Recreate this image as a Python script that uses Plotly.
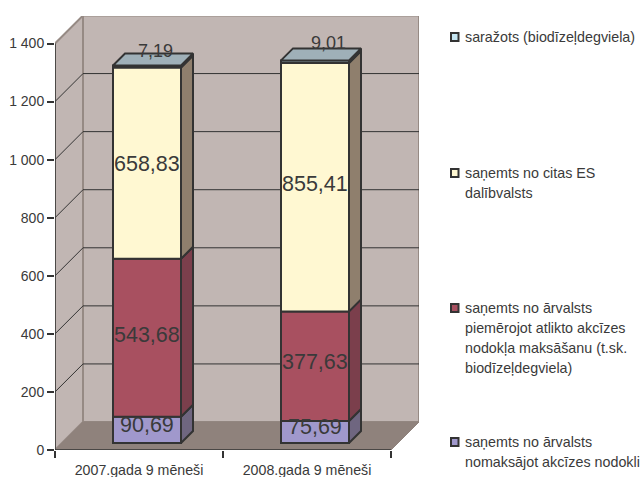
import plotly.graph_objects as go

categories = ["2007.gada 9 mēneši", "2008.gada 9 mēneši"]

# series, bottom to top
purple_vals = [90.69, 75.69]
red_vals = [543.68, 377.63]
cream_vals = [658.83, 855.41]
blue_vals = [7.19, 9.01]

y_ticks = [0, 200, 400, 600, 800, 1000, 1200, 1400]
y_tick_text = ["0", "200", "400", "600", "800", "1 000", "1 200", "1 400"]

legend_labels = [
    ["saražots (biodīzeļdegviela)"],
    ["saņemts no citas ES", "dalībvalsts"],
    ["saņemts no ārvalsts", "piemērojot atlikto akcīzes", "nodokļa maksāšanu (t.sk.", "biodīzeļdegviela)"],
    ["saņemts no ārvalsts", "nomaksājot akcīzes nodokli"],
]

FONT = "Liberation Sans"
TXT = "#3a3a3a"
EDGE = "#333333"
WALL = "#c1b6b3"
WALL_EDGE = "#968a84"
FLOOR = "#8f827c"

# pixel scale of the axes
PX_X = 1 / 168
PX_Y = 1400 / 406.5
WALL_DX, WALL_DY = 28 * PX_X, 28 * PX_Y
BAR_DX, BAR_DY = 12 * PX_X, 12 * PX_Y
BAR_SHIFT_X, BAR_BASE = 8 * PX_X, 7 * PX_Y
BAR_W = 68 * PX_X
Y_MAX = 1400

series = [
    (purple_vals, "#a098cc", "#6f6680"),
    (red_vals, "#a85060", "#7b3f4c"),
    (cream_vals, "#fff8d2", "#8f7f6d"),
    (blue_vals, "#c5e6f2", "#7f8f96"),
]
top_face_color = "#9fb0b8"

fig = go.Figure()
centers = [i + 0.5 + BAR_SHIFT_X for i in range(len(categories))]

# stacked fronts
base = [BAR_BASE] * len(categories)
for vals, front, side in series:
    fig.add_trace(go.Bar(
        x=centers, y=vals, base=list(base), width=BAR_W,
        marker=dict(color=front, line=dict(color=EDGE, width=2)),
        hoverinfo="skip", showlegend=False,
    ))
    # side face
    for i, c in enumerate(centers):
        r = c + BAR_W / 2
        b, t = base[i], base[i] + vals[i]
        fig.add_trace(go.Scatter(
            x=[r, r + BAR_DX, r + BAR_DX, r, r],
            y=[b, b + BAR_DY, t + BAR_DY, t, b],
            mode="lines", fill="toself", fillcolor=side,
            line=dict(color=EDGE, width=2),
            hoverinfo="skip", showlegend=False,
        ))
    base = [b + v for b, v in zip(base, vals)]

# top faces
for i, c in enumerate(centers):
    l, r, t = c - BAR_W / 2, c + BAR_W / 2, base[i]
    fig.add_trace(go.Scatter(
        x=[l, r, r + BAR_DX, l + BAR_DX, l],
        y=[t, t, t + BAR_DY, t + BAR_DY, t],
        mode="lines", fill="toself", fillcolor=top_face_color,
        line=dict(color=EDGE, width=2),
        hoverinfo="skip", showlegend=False,
    ))

x_end = len(categories)
shapes = [
    # side wall, back wall, floor
    dict(type="path", xref="x", yref="y", layer="below", fillcolor=WALL,
         line=dict(color=WALL_EDGE, width=2),
         path=f"M 0 0 L {WALL_DX} {WALL_DY} L {WALL_DX} {Y_MAX + WALL_DY} L 0 {Y_MAX} Z"),
    dict(type="rect", xref="x", yref="y", layer="below", fillcolor=WALL,
         line=dict(color=WALL_EDGE, width=2),
         x0=WALL_DX, x1=x_end + WALL_DX, y0=WALL_DY, y1=Y_MAX + WALL_DY),
    dict(type="path", xref="x", yref="y", layer="below", fillcolor=FLOOR,
         line=dict(color=FLOOR, width=1),
         path=f"M 0 0 L {x_end} 0 L {x_end + WALL_DX} {WALL_DY} L {WALL_DX} {WALL_DY} Z"),
]
# gridlines on the walls
for v in y_ticks[1:-1]:
    shapes.append(dict(type="line", xref="x", yref="y", layer="below",
                       x0=0, x1=WALL_DX, y0=v, y1=v + WALL_DY,
                       line=dict(color=EDGE, width=1)))
    shapes.append(dict(type="line", xref="x", yref="y", layer="below",
                       x0=WALL_DX, x1=x_end + WALL_DX, y0=v + WALL_DY, y1=v + WALL_DY,
                       line=dict(color=EDGE, width=1)))
# axis lines
shapes.append(dict(type="line", xref="x", yref="y", x0=0, x1=0, y0=0, y1=Y_MAX,
                   line=dict(color=EDGE, width=1.5)))
shapes.append(dict(type="line", xref="x", yref="y", x0=0, x1=x_end, y0=0, y1=0,
                   line=dict(color=EDGE, width=1.5)))

# value labels, with (x, y) nudges in pixels as they sit in the picture
annotations = []
nudges = [
    [(0, 5), (0, 3), (0, -1), (8, 15)],
    [(0, 5), (0, 4), (0, 3), (13, 19)],
]
label_sizes = [21.5, 21.5, 21.5, 18]
for i, c in enumerate(centers):
    b = BAR_BASE
    for j, (vals, _, _) in enumerate(series):
        dx, dy = nudges[i][j]
        annotations.append(dict(
            x=c, y=b + vals[i] / 2, xref="x", yref="y", showarrow=False,
            text=f"{vals[i]:.2f}".replace(".", ","), xshift=dx, yshift=dy,
            font=dict(family=FONT, size=label_sizes[j], color=TXT),
        ))
        b += vals[i]

# legend: markers and text lines
legend_tops = [37, 173, 308, 442]
W, H = 641, 477
for (lines, top, (_, front, _)) in zip(legend_labels, legend_tops, reversed(series)):
    shapes.append(dict(type="rect", xref="paper", yref="paper",
                       x0=(451 - 55) / 364, x1=(458.5 - 55) / 364,
                       y0=(450 - top - 4) / 434, y1=(450 - top + 4) / 434,
                       fillcolor=front, line=dict(color=EDGE, width=2)))
    for k, line in enumerate(lines):
        annotations.append(dict(
            x=(465 - 55) / 364, y=(450 - top - 20 * k) / 434, xref="paper", yref="paper",
            xanchor="left", yanchor="middle", showarrow=False, text=line,
            xshift=-2, font=dict(family=FONT, size=14.3, color=TXT),
        ))

fig.update_layout(
    width=W, height=H,
    margin=dict(l=55, r=W - 419, t=16, b=H - 450),
    paper_bgcolor="white", plot_bgcolor="white",
    barmode="overlay", shapes=shapes, annotations=annotations,
    font=dict(family=FONT, size=14, color=TXT),
    xaxis=dict(
        automargin=False,
        range=[0, x_end + WALL_DX], tickmode="array",
        tickvals=[i + 0.5 for i in range(len(categories))], ticktext=categories,
        ticks="outside", ticklen=7, tickcolor="rgba(0,0,0,0)",
        tickfont=dict(size=14.2),
        showgrid=False, zeroline=False, showline=False,
        minor=dict(tickmode="array", tickvals=list(range(x_end + 1)), ticks="outside",
                   ticklen=7, tickcolor=EDGE, tickwidth=1.5, showgrid=False),
    ),
    yaxis=dict(
        automargin=False,
        range=[0, 434 * PX_Y], tickmode="array", tickvals=y_ticks, ticktext=y_tick_text,
        ticks="outside", ticklen=7, tickcolor=EDGE, tickwidth=1.5,
        tickfont=dict(size=14),
        showgrid=False, zeroline=False, showline=False,
    ),
)

# the page's default body margin would push the figure off the window
fig.write_html("out.html", config={"displayModeBar": False},
               post_script="document.body.style.margin='0';document.body.style.overflow='hidden';")
